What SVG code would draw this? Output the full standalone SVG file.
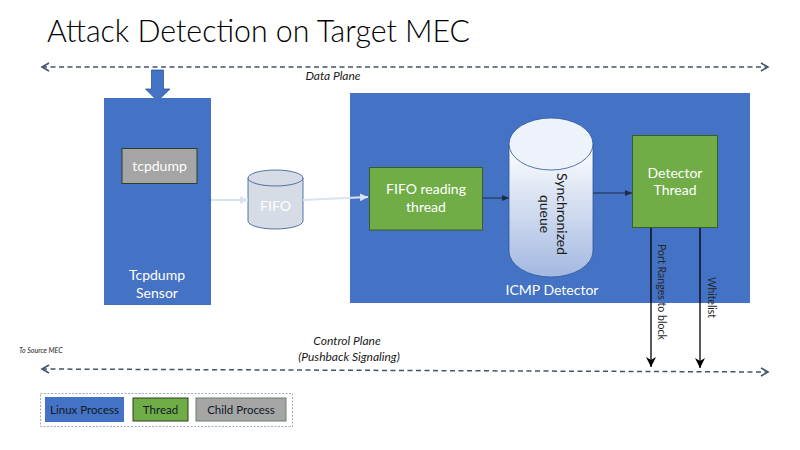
<svg xmlns="http://www.w3.org/2000/svg" width="800" height="450" viewBox="0 0 800 450">
<style>
text{font-family:Lato,"Open Sans","Liberation Sans",sans-serif}
.w{fill:#fff;font-size:14px;text-anchor:middle}
.d{fill:#262626;font-size:12px}
.it{font-style:italic;fill:#1a1a1a;font-size:12px;text-anchor:middle}
.dash{fill:none;stroke:#44546A;stroke-width:1.5;stroke-dasharray:5 3.5}
.proc{fill:#4472C4}
.thr{fill:#70AD47;stroke:#3B5E26;stroke-width:1}
.leg{fill:#101828;font-size:11.5px;text-anchor:middle}
</style>
<defs>
<marker id="chev" markerUnits="userSpaceOnUse" markerWidth="12" markerHeight="12" refX="8" refY="5" orient="auto-start-reverse" viewBox="0 0 12 10">
<path d="M1,1 L8,5 L1,9" fill="none" stroke="#44546A" stroke-width="1.6"/>
</marker>
<marker id="lt" markerUnits="userSpaceOnUse" markerWidth="10" markerHeight="10" refX="8" refY="4" orient="auto" viewBox="0 0 10 8">
<path d="M0,0 L8,4 L0,8 Z" fill="#DAE3F3"/>
</marker>
<marker id="dk" markerUnits="userSpaceOnUse" markerWidth="8" markerHeight="8" refX="7" refY="3" orient="auto" viewBox="0 0 8 6">
<path d="M0,0 L7,3 L0,6 Z" fill="#1F2A44"/>
</marker>
<marker id="bk" markerUnits="userSpaceOnUse" markerWidth="12" markerHeight="12" refX="10" refY="5" orient="auto" viewBox="0 0 12 10">
<path d="M0,0 L10,5 L0,10 L3,5 Z" fill="#000"/>
</marker>
<linearGradient id="qg" x1="0" y1="0" x2="0" y2="1">
<stop offset="0" stop-color="#FFFFFF"/>
<stop offset="1" stop-color="#A3B8E0"/>
</linearGradient>
</defs>

<text x="47" y="42" font-size="32" font-weight="300" fill="#000" textLength="423" lengthAdjust="spacingAndGlyphs">Attack Detection on Target MEC</text>

<g id="data-plane">
<line x1="42" y1="67" x2="768" y2="67" class="dash" marker-start="url(#chev)" marker-end="url(#chev)"/>
<text x="333" y="80" class="it" font-size="11">Data Plane</text>
</g>

<g id="input-arrow">
<path d="M151.5,70 L163.5,70 L163.5,89 L170,89 L157.5,101 L145.5,89 L151.5,89 Z" fill="#4472C4" stroke="#2F5597" stroke-width="0.8"/>
</g>

<g id="tcpdump-sensor">
<rect x="104" y="98" width="107" height="207" class="proc"/>
<text x="157" y="280" class="w">Tcpdump</text>
<text x="157" y="298" class="w">Sensor</text>
</g>

<g id="tcpdump">
<rect x="122" y="148.5" width="75" height="35" fill="#A5A5A5" stroke="#2F3F22" stroke-width="1"/>
<text x="159.5" y="171" class="w">tcpdump</text>
</g>

<g id="fifo">
<path d="M248,178 L248,221 A27.5,8 0 0 0 303,221 L303,178 Z" fill="#D6DCE5" stroke="#2F5597" stroke-width="0.8"/>
<ellipse cx="275.5" cy="178" rx="27.5" ry="8" fill="#D6DCE5" stroke="#2F5597" stroke-width="0.8"/>
<text x="275.5" y="211" class="w">FIFO</text>
</g>

<g id="icmp-detector">
<rect x="350" y="93" width="400" height="210" class="proc"/>
<text x="552" y="295" class="w">ICMP Detector</text>
</g>

<g id="fifo-reading-thread">
<rect x="369.5" y="167.5" width="113" height="62.5" class="thr"/>
<text x="426" y="194" class="w">FIFO reading</text>
<text x="426" y="212" class="w">thread</text>
</g>

<g id="synchronized-queue">
<path d="M509,144 L509,251 A42,26 0 0 0 593,251 L593,144 Z" fill="url(#qg)" stroke="#2F5597" stroke-width="0.8"/>
<ellipse cx="551" cy="144" rx="42" ry="26" fill="#EEF2FA" stroke="#2F5597" stroke-width="0.8"/>
<text transform="translate(557,214) rotate(90)" fill="#1a1a1a" font-size="14" text-anchor="middle">Synchronized</text>
<text transform="translate(540,214) rotate(90)" fill="#1a1a1a" font-size="14" text-anchor="middle">queue</text>
</g>

<g id="detector-thread">
<rect x="632.5" y="135.5" width="85" height="92" class="thr"/>
<text x="675" y="178" class="w">Detector</text>
<text x="675" y="195" class="w">Thread</text>
</g>

<g id="connectors">
<line x1="211" y1="200" x2="248" y2="200" stroke="#DAE3F3" stroke-width="2" marker-end="url(#lt)"/>
<line x1="303" y1="200" x2="368" y2="197" stroke="#DAE3F3" stroke-width="2" marker-end="url(#lt)"/>
<line x1="482.5" y1="198" x2="509" y2="198" stroke="#1F2A44" stroke-width="1" marker-end="url(#dk)"/>
<line x1="593" y1="193" x2="632" y2="193" stroke="#1F2A44" stroke-width="1" marker-end="url(#dk)"/>
<line x1="651" y1="228" x2="651" y2="367" stroke="#000" stroke-width="1.3" marker-end="url(#bk)"/>
<line x1="700" y1="228" x2="700" y2="368" stroke="#000" stroke-width="1.3" marker-end="url(#bk)"/>
<text transform="translate(658,244) rotate(90)" class="d" textLength="96" lengthAdjust="spacingAndGlyphs">Port Ranges to block</text>
<text transform="translate(708,277) rotate(90)" class="d" textLength="41" lengthAdjust="spacingAndGlyphs">Whitelist</text>
</g>

<g id="control-plane">
<line x1="42" y1="369" x2="768" y2="372" class="dash" marker-start="url(#chev)" marker-end="url(#chev)"/>
<text x="347" y="345" class="it">Control Plane</text>
<text x="349" y="361" class="it">(Pushback Signaling)</text>
<text x="19" y="353" font-size="7" font-style="italic" fill="#1a1a1a">To Source MEC</text>
</g>

<g id="legend">
<rect x="40.5" y="393.5" width="252" height="33" fill="none" stroke="#8497B0" stroke-width="0.8" stroke-dasharray="2 1.5"/>
<rect x="45" y="397" width="79" height="25" fill="#4472C4"/>
<text x="84.5" y="413.5" class="leg">Linux Process</text>
<rect x="133" y="398" width="55" height="23" fill="#70AD47" stroke="#2F3F22" stroke-width="1"/>
<text x="160.5" y="413.5" class="leg">Thread</text>
<rect x="196" y="398" width="90" height="23" fill="#A5A5A5" stroke="#6F7F6F" stroke-width="1"/>
<text x="241" y="413.5" class="leg">Child Process</text>
</g>
</svg>
